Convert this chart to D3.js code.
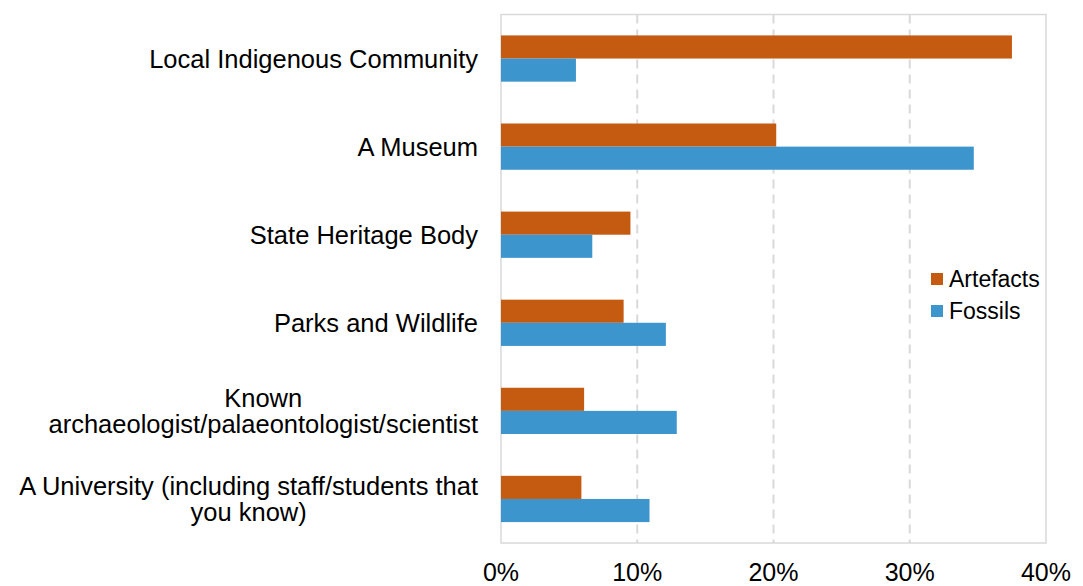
<!DOCTYPE html>
<html>
<head>
<meta charset="utf-8">
<script src="https://cdn.jsdelivr.net/npm/d3@7"></script>
<style>
  body { margin: 0; background: #fff; }
  text { font-family: "Liberation Sans", Arial, sans-serif; fill: #000; }
</style>
</head>
<body>
<div id="chart"></div>
<script>
// category labels, one array of lines per category
var categories = [
	['Local Indigenous Community'],
	['A Museum'],
	['State Heritage Body'],
	['Parks and Wildlife'],
	['Known', 'archaeologist/palaeontologist/scientist'],
	['A University (including staff/students that', 'you know)']
];
var seriesNames = ['Artefacts', 'Fossils'];
var artefacts = [37.5, 20.2, 9.5, 9.0, 6.1, 5.9];
var fossils = [5.5, 34.7, 6.7, 12.1, 12.9, 10.9];
var xTicks = [0, 10, 20, 30, 40];

var width = 1083, height = 586;
var plotLeft = 501, plotRight = 1046, plotTop = 14.5, plotBottom = 543;
var colors = { Artefacts: '#C55A11', Fossils: '#3D95CD' };
var labelSize = 25.5;

var rows = categories.map(function(c, i) {
	return { idx: i, label: c, Artefacts: artefacts[i], Fossils: fossils[i] };
});

var svg = d3.select('#chart').append('svg')
		.attr('width', width)
		.attr('height', height);

var x = d3.scaleLinear().domain([0, 40]).range([plotLeft, plotRight]);
var y = d3.scaleBand().domain(d3.range(categories.length)).range([plotTop, plotBottom])
		.paddingInner(0.475).paddingOuter(0.2375);
var ySub = d3.scaleBand().domain(seriesNames).range([0, y.bandwidth()]);

// gridlines
svg.append('g').selectAll('line').data(xTicks.slice(1, -1)).enter().append('line')
	.attr('x1', function(d) { return x(d); })
	.attr('x2', function(d) { return x(d); })
	.attr('y1', plotTop)
	.attr('y2', plotBottom)
	.attr('stroke', '#d9d9d9')
	.attr('stroke-width', 2)
	.attr('stroke-dasharray', '9,6');

// plot frame
svg.append('rect')
	.attr('x', plotLeft)
	.attr('y', plotTop)
	.attr('width', plotRight - plotLeft)
	.attr('height', plotBottom - plotTop)
	.attr('fill', 'none')
	.attr('stroke', '#d9d9d9')
	.attr('stroke-width', 1.5);

// bars
var groups = svg.append('g').selectAll('g').data(rows).enter().append('g')
	.attr('transform', function(d) { return 'translate(0,' + y(d.idx) + ')'; });

groups.selectAll('rect').data(function(d) {
		return seriesNames.map(function(s) { return { key: s, value: d[s] }; });
	}).enter().append('rect')
	.attr('x', x(0))
	.attr('y', function(d) { return ySub(d.key); })
	.attr('width', function(d) { return x(d.value) - x(0); })
	.attr('height', ySub.bandwidth())
	.attr('fill', function(d) { return colors[d.key]; });

// x axis labels
svg.append('g').selectAll('text').data(xTicks).enter().append('text')
	.attr('x', function(d) { return x(d); })
	.attr('y', 572)
	.attr('text-anchor', 'middle')
	.attr('dominant-baseline', 'central')
	.style('font-size', '25px')
	.text(function(d) { return d + '%'; });

// category labels (multi-line blocks right-aligned, lines centred within block)
var lineH = 26.5;
var labels = svg.append('g').selectAll('text').data(rows).enter().append('text')
	.style('font-size', labelSize + 'px')
	.attr('dominant-baseline', 'central');

labels.each(function(d) {
	var t = d3.select(this);
	var cy = y(d.idx) + y.bandwidth() / 2;
	var n = d.label.length;
	d.label.forEach(function(line, j) {
		t.append('tspan')
			.attr('y', cy + (j - (n - 1) / 2) * lineH)
			.text(line);
	});
	var widths = [];
	t.selectAll('tspan').each(function() { widths.push(this.getComputedTextLength()); });
	var maxW = d3.max(widths);
	var centre = 478 - maxW / 2;
	t.attr('text-anchor', n > 1 ? 'middle' : 'end');
	t.selectAll('tspan').attr('x', n > 1 ? centre : 478);
});

// legend
var legend = svg.append('g').attr('transform', 'translate(931,279)');
var items = legend.selectAll('g').data(seriesNames).enter().append('g')
	.attr('transform', function(d, i) { return 'translate(0,' + (i * 32) + ')'; });
items.append('rect')
	.attr('x', 0)
	.attr('y', -6)
	.attr('width', 12)
	.attr('height', 12)
	.attr('fill', function(d) { return colors[d]; });
items.append('text')
	.attr('x', 18)
	.attr('y', 0)
	.attr('dominant-baseline', 'central')
	.style('font-size', '23px')
	.text(function(d) { return d; });
</script>
</body>
</html>
